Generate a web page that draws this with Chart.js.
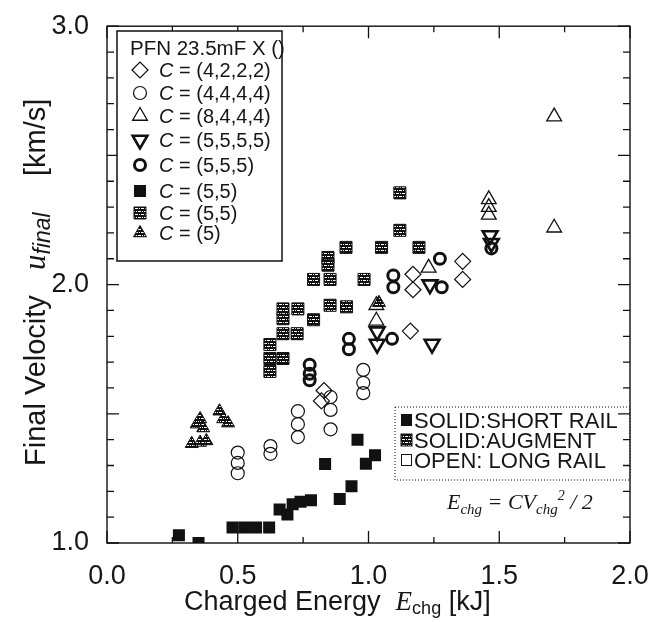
<!DOCTYPE html>
<html><head><meta charset="utf-8">
<script src="https://cdn.jsdelivr.net/npm/chart.js@4/dist/chart.umd.min.js"></script>
<style>html,body{margin:0;padding:0;background:#fff}#wrap{width:664px;height:622px}</style>
</head><body><div id="wrap"><canvas id="c" width="664" height="622"></canvas></div>
<script>
// ---------- data ----------
const xTickValues = [0.0, 0.5, 1.0, 1.5, 2.0];
const yTickValues = [1.0, 2.0, 3.0];
const legendTitle = 'PFN 23.5mF X ()';
const legendLabels = ['(4,2,2,2)', '(4,4,4,4)', '(8,4,4,4)', '(5,5,5,5)', '(5,5,5)', '(5,5)', '(5,5)', '(5)'];
const railLabels = ['SOLID:SHORT RAIL', 'SOLID:AUGMENT', 'OPEN: LONG RAIL'];

const diamond4222 = [[0.83,1.59],[0.82,1.55],[1.16,1.82],[1.17,2.04],[1.17,1.98],[1.36,2.09],[1.36,2.02]];
const circle4444 = [[0.5,1.35],[0.5,1.31],[0.5,1.27],[0.625,1.375],[0.625,1.345],[0.73,1.51],[0.73,1.46],[0.73,1.41],
  [0.855,1.565],[0.855,1.515],[0.855,1.44],[0.98,1.67],[0.98,1.62],[0.98,1.58]];
const triUp8444 = [[1.71,2.65],[1.71,2.22],[1.46,2.33],[1.46,2.30],[1.46,2.27],[1.23,2.065],[1.03,1.92],[1.03,1.86]];
const triDown5555 = [[1.465,2.19],[1.47,2.16],[1.235,2.0],[1.033,1.818],[1.033,1.77],[1.243,1.77]];
const circle555 = [[0.775,1.69],[0.775,1.655],[0.775,1.63],[0.925,1.79],[0.925,1.75],[1.09,1.79],[1.095,2.035],[1.095,1.99],
  [1.273,2.10],[1.28,1.99],[1.47,2.14]];
const square55 = [[0.275,1.03],[0.35,1.0],[0.48,1.06],[0.525,1.06],[0.57,1.06],[0.62,1.06],[0.66,1.13],[0.69,1.11],[0.71,1.15],
  [0.74,1.16],[0.78,1.165],[0.89,1.17],[0.935,1.22],[0.834,1.306],[0.99,1.307],[1.025,1.34],[0.958,1.40]];
const augSquare55 = [[1.12,2.355],[1.12,2.21],[0.914,2.144],[1.05,2.144],[1.193,2.144],[0.845,2.105],[0.845,2.075],
  [0.79,2.02],[0.853,2.02],[0.983,2.02],[0.673,1.906],[0.673,1.868],[0.73,1.906],[0.79,1.864],[0.853,1.92],[0.916,1.914],
  [0.673,1.81],[0.727,1.81],[0.623,1.768],[0.623,1.714],[0.673,1.714],[0.623,1.664]];
const augTri5 = [[0.324,1.384],[0.356,1.389],[0.38,1.395],[0.356,1.48],[0.343,1.46],[0.368,1.445],[0.43,1.51],[0.444,1.48],[0.463,1.464],[1.04,1.93]];

// ---------- helpers ----------
const SANS = '"Liberation Sans", Arial, sans-serif';
const SERIF = '"Liberation Serif", "Times New Roman", serif';
const INK = '#161616';
const toPts = a => a.map(p => ({x: p[0], y: p[1]}));
const canvas = document.getElementById('c');
const mainCtx = canvas.getContext('2d');
function makeHatch() {
  const c = document.createElement('canvas'); c.width = 6; c.height = 6;
  const g = c.getContext('2d');
  g.fillStyle = '#111'; g.fillRect(0, 0, 6, 6);
  g.fillStyle = '#fff';
  g.fillRect(0, 1, 3, 1); g.fillRect(3, 4, 3, 1); g.fillRect(4, 1, 1, 1); g.fillRect(1, 4, 1, 1);
  return mainCtx.createPattern(c, 'repeat');
}
const hatch = makeHatch();
const CLEAR = 'rgba(0,0,0,0)';

const styles = [
  {data: diamond4222, pointStyle: 'rectRot', radius: 8, rotation: 0, bg: CLEAR, bw: 1.2},
  {data: circle4444, pointStyle: 'circle', radius: 6.5, rotation: 0, bg: CLEAR, bw: 1.2},
  {data: triUp8444, pointStyle: 'triangle', radius: 8.5, rotation: 0, bg: CLEAR, bw: 1.3},
  {data: triDown5555, pointStyle: 'triangle', radius: 8.5, rotation: 180, bg: CLEAR, bw: 2.6},
  {data: circle555, pointStyle: 'circle', radius: 5.5, rotation: 0, bg: CLEAR, bw: 3},
  {data: square55, pointStyle: 'rect', radius: 8.5, rotation: 0, bg: '#111', bw: 0},
  {data: augSquare55, pointStyle: 'rect', radius: 8.5, rotation: 0, bg: hatch, bw: 1},
  {data: augTri5, pointStyle: 'triangle', radius: 7.5, rotation: 0, bg: hatch, bw: 1}
];

const datasets = styles.map((s, i) => ({
  label: 'C = ' + legendLabels[i],
  data: toPts(s.data),
  pointStyle: s.pointStyle,
  pointRadius: s.radius,
  pointRotation: s.rotation,
  pointBackgroundColor: s.bg,
  pointBorderColor: '#111',
  pointBorderWidth: s.bw,
  showLine: false
}));

function drawSegs(ctx, parts, x, y) {
  for (const p of parts) {
    ctx.font = p.f;
    if (p.x !== undefined) x = p.x;
    ctx.fillText(p.t, x, y + (p.dy || 0));
    x += ctx.measureText(p.t).width;
  }
  return x;
}
function marker(ctx, s, x, y) {
  ctx.save();
  ctx.fillStyle = s.bg; ctx.strokeStyle = '#111'; ctx.lineWidth = s.bw;
  Chart.helpers.drawPoint(ctx, {pointStyle: s.pointStyle, radius: s.radius, rotation: s.rotation, borderWidth: s.bw}, x, y);
  ctx.restore();
}

const decor = {
  id: 'decor',
  afterDraw(chart) {
    const {ctx, chartArea: a, scales: {x, y}} = chart;
    ctx.save();
    ctx.strokeStyle = '#111'; ctx.lineWidth = 1.4;
    ctx.strokeRect(a.left, a.top, a.right - a.left, a.bottom - a.top);
    ctx.lineWidth = 1.3;
    ctx.beginPath();
    for (let i = 0; i <= 20; i++) {
      const py = y.getPixelForValue(1 + i * 0.1);
      const L = (i % 5 === 0) ? 12 : 7;
      ctx.moveTo(a.left, py); ctx.lineTo(a.left + L, py);
      ctx.moveTo(a.right, py); ctx.lineTo(a.right - L, py);
    }
    for (let i = 0; i <= 8; i++) {
      const px = x.getPixelForValue(i * 0.25);
      const L = (i % 2 === 0) ? 12 : 6;
      ctx.moveTo(px, a.bottom); ctx.lineTo(px, a.bottom - L);
      ctx.moveTo(px, a.top); ctx.lineTo(px, a.top + L);
    }
    ctx.stroke();

    // ---- series legend (top-left box) ----
    ctx.fillStyle = '#fff';
    ctx.fillRect(117, 31, 165, 230);
    ctx.lineWidth = 1.5; ctx.strokeStyle = '#111';
    ctx.strokeRect(117, 31, 165, 230);
    ctx.fillStyle = INK;
    ctx.textBaseline = 'alphabetic';
    ctx.font = '20.5px ' + SANS;
    ctx.fillText(legendTitle, 130, 55);
    const rows = [70, 93, 116, 140, 165, 191, 213, 233];
    styles.forEach((s, i) => {
      marker(ctx, s, 140, rows[i]);
      ctx.fillStyle = INK;
      drawSegs(ctx, [
        {t: 'C', f: 'italic 20px ' + SANS},
        {t: ' = ' + legendLabels[i], f: '20px ' + SANS}
      ], 159, rows[i] + 7);
    });

    // ---- rail legend (dotted box) ----
    ctx.save();
    ctx.setLineDash([1, 2]); ctx.lineWidth = 1;
    ctx.strokeRect(395, 407, 235, 73);
    ctx.restore();
    const railY = [420, 440, 460];
    ctx.fillStyle = '#111'; ctx.fillRect(401, railY[0] - 6, 11, 12);
    ctx.fillStyle = hatch; ctx.fillRect(401, railY[1] - 6, 11, 12);
    ctx.strokeStyle = '#111'; ctx.lineWidth = 1; ctx.strokeRect(401, railY[1] - 6, 11, 12);
    ctx.strokeRect(401.5, railY[2] - 5.5, 10, 11);
    ctx.fillStyle = INK;
    ctx.font = '22px ' + SANS;
    railLabels.forEach((t, i) => ctx.fillText(t, 414, railY[i] + 8));

    // ---- formula ----
    const it = s => 'italic ' + s + 'px ' + SERIF;
    drawSegs(ctx, [
      {t: 'E', f: it(22)}, {t: 'chg', f: it(15), dy: 5},
      {t: ' = CV', f: it(22)}, {t: 'chg', f: it(15), dy: 5}, {t: '2', f: it(14), dy: -9},
      {t: ' / 2', f: it(22)}
    ], 447, 509);

    // ---- x axis title ----
    drawSegs(ctx, [
      {t: 'Charged Energy  ', f: '27px ' + SANS},
      {t: 'E', f: 'italic 27px ' + SERIF},
      {t: 'chg', f: '18px ' + SANS, dy: 4},
      {t: ' [kJ]', f: '27px ' + SANS}
    ], 184, 610);

    // ---- y axis title (rotated; local x = -screen y) ----
    ctx.translate(45, 0);
    ctx.rotate(-Math.PI / 2);
    drawSegs(ctx, [
      {t: 'Final Velocity', f: '29px ' + SANS, x: -466},
      {t: 'u', f: 'italic 31px ' + SERIF, x: -270},
      {t: 'final', f: 'italic 23px ' + SANS, dy: 5},
      {t: '[km/s]', f: '29px ' + SANS, x: -176}
    ], 0, 0);
    ctx.restore();
  }
};

new Chart(canvas, {
  type: 'scatter',
  data: {datasets},
  options: {
    responsive: false,
    animation: false,
    events: [],
    layout: {padding: {top: 22, right: 34, left: 0, bottom: 0}},
    plugins: {legend: {display: false}, tooltip: {enabled: false}},
    scales: {
      x: {
        type: 'linear', min: 0, max: 2,
        afterBuildTicks: s => { s.ticks = xTickValues.map(v => ({value: v})); },
        ticks: {callback: v => Number(v).toFixed(1), font: {family: SANS, size: 27}, color: INK, padding: 9, maxRotation: 0, autoSkip: false},
        grid: {display: false}, border: {display: false},
        afterFit: s => { s.height = 79; }
      },
      y: {
        type: 'linear', min: 1, max: 3,
        afterBuildTicks: s => { s.ticks = yTickValues.map(v => ({value: v})); },
        ticks: {callback: v => Number(v).toFixed(1), font: {family: SANS, size: 27}, color: INK, padding: 10, autoSkip: false},
        grid: {display: false}, border: {display: false},
        afterFit: s => { s.width = 107; }
      }
    }
  },
  plugins: [decor]
});
</script>
</body></html>
